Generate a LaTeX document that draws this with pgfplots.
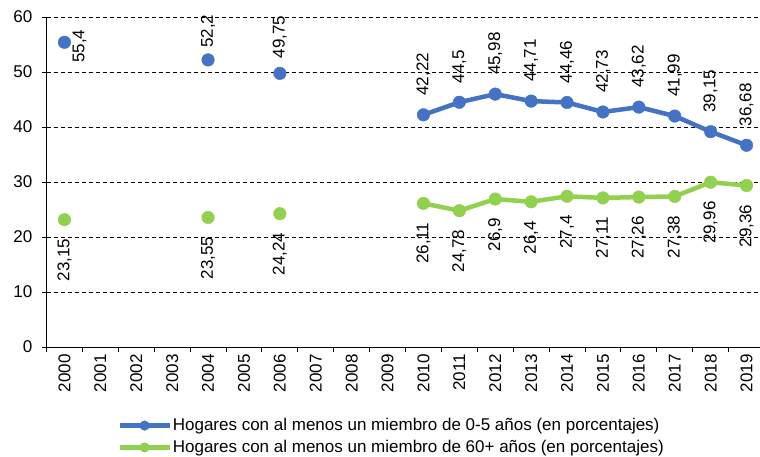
\documentclass[border=0pt]{standalone}
\usepackage{pgfplots}
\pgfplotsset{compat=1.18}
\usepackage{fontspec}
\setmainfont{Liberation Sans}
\definecolor{cblue}{HTML}{4472C4}
\definecolor{cgreen}{HTML}{92D050}
\begin{document}
\fontsize{17pt}{20pt}\selectfont
\begin{tikzpicture}
\useasboundingbox (0,0) rectangle (760pt,457pt);
\begin{axis}[
  at={(46.5pt,110pt)}, anchor=south west,
  scale only axis, width=713.5pt, height=330pt,
  xmin=-0.5, xmax=19.375, ymin=0, ymax=60,
  ytick={0,10,...,60},
  xtick={0,...,19},
  xticklabels={2000,2001,2002,2003,2004,2005,2006,2007,2008,2009,2010,2011,2012,2013,2014,2015,2016,2017,2018,2019},
  minor xtick={-0.5,0.5,...,18.5},
  axis x line*=bottom, axis y line*=left,
  axis line style={black, line width=0.8pt},
  ymajorgrids, grid style={dash pattern=on 4pt off 3pt, black, line width=0.8pt},
  tick align=outside,
  major tick length=5pt, minor tick length=5pt,
  major x tick style={draw=none},
  minor x tick style={black, line width=0.8pt},
  major y tick style={black, line width=0.8pt},
  xticklabel style={rotate=90, anchor=east, inner sep=2pt},
  yticklabel style={anchor=east, inner sep=0pt, xshift=-9pt},
  /pgf/number format/assume math mode=true,
  /pgf/number format/use comma,
  /pgf/number format/1000 sep={},
  tick label style={font=\fontsize{17pt}{20pt}\selectfont},
  every node near coord/.append style={font=\fontsize{17pt}{20pt}\selectfont, text=black},
  legend style={at={(0.099,-0.212)}, anchor=north west, draw=none, fill=none,
     font=\fontsize{17pt}{20pt}\selectfont, row sep=5pt, inner sep=0pt,
     nodes={inner sep=1pt}},
  legend cell align=left,
  legend image code/.code={\draw[mark repeat=2,mark phase=2,#1, mark size=4.8pt] plot coordinates {(0pt,0pt) (25pt,0pt) (50pt,0pt)};},
]
% blue main line
\addplot[cblue, line width=4.5pt, mark=*, mark size=6.3pt, mark options={fill=cblue, draw=cblue, line width=0.4pt},
  nodes near coords, every node near coord/.append style={rotate=90, anchor=west, inner xsep=19pt, inner ysep=0pt}]
  coordinates {(10,42.22) (11,44.5) (12,45.98) (13,44.71) (14,44.46) (15,42.73) (16,43.62) (17,41.99) (18,39.15) (19,36.68)};
\addlegendentry{Hogares con al menos un miembro de 0-5 años (en porcentajes)}
% green main line
\addplot[cgreen, line width=4.5pt, mark=*, mark size=6.3pt, mark options={fill=cgreen, draw=cgreen, line width=0.4pt},
  nodes near coords, every node near coord/.append style={rotate=90, anchor=east, inner xsep=19pt, inner ysep=0pt}]
  coordinates {(10,26.11) (11,24.78) (12,26.9) (13,26.4) (14,27.4) (15,27.11) (16,27.26) (17,27.38) (18,29.96) (19,29.36)};
\addlegendentry{Hogares con al menos un miembro de 60+ años (en porcentajes)}
% green isolated points
\addplot[cgreen, forget plot, only marks, mark=*, mark size=6.3pt, mark options={fill=cgreen, draw=cgreen, line width=0.4pt},
  nodes near coords, every node near coord/.append style={rotate=90, anchor=east, inner xsep=19pt, inner ysep=0pt}]
  coordinates {(0,23.15) (4,23.55) (6,24.24)};
% blue isolated points
\addplot[cblue, forget plot, only marks, mark=*, mark size=6.3pt, mark options={fill=cblue, draw=cblue, line width=0.4pt},
  nodes near coords, every node near coord/.append style={yshift=-4pt, rotate=90, anchor=north, inner ysep=8pt, inner xsep=0pt}]
  coordinates {(0,55.4)};
\addplot[cblue, forget plot, only marks, mark=*, mark size=6.3pt, mark options={fill=cblue, draw=cblue, line width=0.4pt},
  nodes near coords, every node near coord/.append style={rotate=90, anchor=west, inner xsep=12pt, inner ysep=0pt}]
  coordinates {(4,52.2)};
\addplot[cblue, forget plot, only marks, mark=*, mark size=6.3pt, mark options={fill=cblue, draw=cblue, line width=0.4pt},
  nodes near coords, every node near coord/.append style={rotate=90, anchor=west, inner xsep=15pt, inner ysep=0pt}]
  coordinates {(6,49.75)};
\end{axis}
\end{tikzpicture}
\end{document}
